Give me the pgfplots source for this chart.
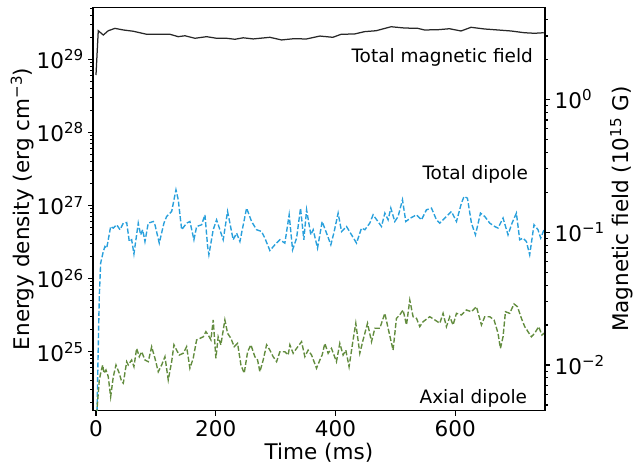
\documentclass[border=0pt]{standalone}
\usepackage{fontspec}
\setmainfont{DejaVu Sans}
\usepackage{pgfplots}
\pgfplotsset{compat=1.18}
\definecolor{cblue}{RGB}{41,160,220}
\definecolor{cgreen}{RGB}{98,140,62}
\definecolor{cblack}{RGB}{40,40,40}
\newcommand{\ex}[1]{\raisebox{0.36em}{\scalebox{0.7}{#1}}}
\newcommand{\tfont}{\fontsize{15.5}{18}\selectfont}
\newcommand{\afont}{\fontsize{13.3}{16}\selectfont}
\begin{document}
\begin{tikzpicture}
\begin{axis}[
  scale only axis, width=325.4pt, height=290.4pt,
  at={(0,0)}, anchor=south west,
  xmin=-5, xmax=750, ymode=log, ymin=1.56e24, ymax=5.14e29,
  xtick={0,200,400,600}, xticklabels={0,200,400,600},
  ytick={1e25,1e26,1e27,1e28,1e29},
  yticklabels={10\ex{25},10\ex{26},10\ex{27},10\ex{28},10\ex{29}},
  minor ytick={2e24,3e24,4e24,5e24,6e24,7e24,8e24,9e24,
    2e25,3e25,4e25,5e25,6e25,7e25,8e25,9e25,
    2e26,3e26,4e26,5e26,6e26,7e26,8e26,9e26,
    2e27,3e27,4e27,5e27,6e27,7e27,8e27,9e27,
    2e28,3e28,4e28,5e28,6e28,7e28,8e28,9e28,
    2e29,3e29,4e29,5e29},
  xtick pos=left, ytick pos=left, tick align=outside,
  major tick length=3.5pt, minor tick length=2pt,
  every tick/.style={black, line width=0.8pt},
  axis line style={line width=0.8pt},
  tick label style={font=\tfont},
  label style={font=\tfont},
  xlabel={Time (ms)},
  ylabel={Energy density (erg cm\ex{−3})},
  xlabel style={at={(axis description cs:0.5,-0.105)}, anchor=center},
  ylabel style={at={(axis description cs:-0.156,0.5)}, anchor=center},
]
\addplot[cblack, line width=0.9pt] table[x=t, y=E] {
t E
0 6.1e28
3.8 2.46e29
12.2 2.15e29
20.5 2.46e29
31.7 2.65e29
45.6 2.52e29
62.3 2.42e29
84.6 2.20e29
101.3 2.20e29
123.5 2.20e29
137.4 2.04e29
148.6 2.10e29
165.3 1.94e29
184.8 2.04e29
201.5 1.94e29
218.2 1.94e29
232.1 1.88e29
245.9 1.97e29
262.6 1.90e29
290.5 2.00e29
310 1.84e29
329.4 1.91e29
351.8 1.90e29
374 2.08e29
395.7 2.00e29
409.5 2.20e29
431.9 2.22e29
448.6 2.39e29
467.9 2.46e29
493 2.79e29
515.4 2.68e29
537.6 2.65e29
548.7 2.52e29
571 2.54e29
590.5 2.62e29
609.8 2.44e29
626.5 2.74e29
648.9 2.60e29
671.1 2.52e29
693.3 2.44e29
715.7 2.31e29
732.4 2.27e29
748 2.31e29
};
\addplot[cblue, line width=1pt, dash pattern=on 3.7pt off 1.6pt] table[x=t, y=E] {
t E
1.5 1.2e24
3.8 1.18e25
5.5 5.69e25
7.8 1.63e26
12.2 2.35e26
15.0 2.75e26
17.9 2.61e26
20.5 3.40e26
24.5 5.16e26
28.9 4.91e26
34.6 5.45e26
40.1 4.66e26
45.6 5.74e26
51.3 5.85e26
55.6 3.22e26
59.6 3.40e26
63.4 2.18e26
70.6 5.74e26
74.6 3.97e26
78.0 4.66e26
81.8 3.22e26
87.3 5.74e26
95.7 6.04e26
98.5 5.45e26
105.7 3.06e26
113.5 5.74e26
118.0 7.08e26
126.4 8.28e26
133.6 1.64e27
137.4 1.20e27
143.1 4.66e26
151.4 5.74e26
156.9 6.04e26
163.6 3.40e26
168.1 5.16e26
176.5 5.45e26
182.0 7.46e26
186.5 2.75e26
188.6 2.12e26
195.8 4.66e26
201.5 6.37e26
212.5 3.40e26
219.8 8.28e26
229.2 3.40e26
234.9 4.19e26
240.4 3.22e26
251.6 9.21e26
259.9 6.04e26
268.3 4.66e26
276.6 4.41e26
282.1 3.58e26
290.5 2.42e26
298.8 2.90e26
307.2 3.40e26
315.5 3.06e26
322.7 7.46e26
328.4 2.48e26
335.1 3.58e26
341.7 9.21e26
347.2 3.40e26
351.8 8.73e26
358.9 3.97e26
362.8 4.66e26
370.1 2.61e26
377.8 6.04e26
386.2 3.97e26
392.3 2.90e26
397.3 4.19e26
404.5 7.87e26
410.2 4.41e26
418.5 5.16e26
426.9 3.97e26
435.2 3.06e26
443.6 4.91e26
449.1 4.66e26
457.4 5.74e26
462.9 7.46e26
472.9 5.74e26
476.9 5.16e26
482.5 7.87e26
488.0 6.37e26
492.5 9.21e26
499.2 6.04e26
504.7 7.08e26
512.0 1.20e27
517.5 6.04e26
525.4 6.73e26
535.4 7.46e26
543.7 6.37e26
552.1 8.73e26
560.4 9.21e26
568.8 6.37e26
574.3 5.74e26
582.6 6.73e26
593.8 8.28e26
602.2 6.04e26
610.5 1.08e27
614.9 1.33e27
620.5 1.26e27
627.2 5.74e26
633.9 3.97e26
642.3 7.87e26
649.4 7.08e26
657.8 5.74e26
666.1 5.16e26
671.6 4.91e26
680.0 6.73e26
688.3 3.97e26
695.0 5.74e26
702.3 7.87e26
707.8 3.40e26
713.3 3.58e26
719.0 3.22e26
724.5 2.12e26
731.7 5.45e26
738.4 4.66e26
742.9 3.58e26
748.4 4.66e26
};
\addplot[cgreen, line width=1pt, dash pattern=on 3.7pt off 1.6pt] table[x=t, y=E] {
t E
1.1 1.4e24
5.5 4.10e24
8.3 5.32e24
11.2 6.58e24
13.4 5.07e24
16.7 5.62e24
20.5 4.55e24
24.5 2.42e24
28.9 4.55e24
33.4 6.58e24
38.9 5.07e24
42.9 3.89e24
45.6 3.70e24
51.3 7.30e24
53.9 6.58e24
59.6 7.70e24
63.4 6.24e24
67.9 1.11e25
72.3 8.55e24
76.3 1.00e25
81.8 7.70e24
87.3 7.30e24
93.0 1.17e25
98.5 8.12e24
104.0 5.32e24
109.7 6.58e24
115.2 8.55e24
120.7 4.10e24
126.4 7.30e24
130.2 1.24e25
134.7 1.05e25
139.1 9.0e24
145.7 9.5e24
151.4 1.17e25
156.9 5.93e24
162.4 8.12e24
168.1 1.45e25
173.6 1.52e25
179.2 1.60e25
183.6 1.88e25
187.5 1.69e25
192.0 1.45e25
195.8 2.72e25
200.3 8.12e24
204.1 1.60e25
208.6 1.24e25
215.3 2.72e25
219.8 1.79e25
225.4 1.52e25
230.9 1.17e25
236.5 1.30e25
242.1 6.58e24
247.6 5.07e24
253.3 1.00e25
258.8 1.24e25
265.4 8.55e24
269.9 7.70e24
273.8 5.32e24
279.3 7.70e24
285.0 1.24e25
290.5 1.05e25
296.0 8.55e24
301.7 7.30e24
307.2 1.00e25
315.5 1.00e25
321.0 9.0e24
323.9 1.24e25
329.4 9.5e24
335.1 1.11e25
343.4 1.37e25
348.9 8.55e24
354.4 1.05e25
360.1 9.0e24
368.4 5.93e24
374.0 7.70e24
377.8 9.0e24
382.3 1.30e25
387.8 9.5e24
393.4 1.11e25
401.7 7.30e24
407.3 1.30e25
412.8 9.0e24
417.3 1.05e25
422.8 6.24e24
429.5 1.45e25
434.0 2.45e25
440.7 9.5e24
446.2 1.45e25
453.6 2.45e25
460.3 1.37e25
465.8 2.09e25
474.1 2.09e25
482.5 3.35e25
488.0 2.09e25
496.3 1.05e25
501.9 2.86e25
507.4 3.18e25
513.0 3.72e25
518.7 2.32e25
524.2 5.09e25
529.7 3.01e25
535.4 2.86e25
540.9 2.20e25
546.4 2.57e25
557.6 3.01e25
566.0 2.72e25
574.3 2.45e25
579.8 3.35e25
585.4 2.20e25
591.0 3.01e25
596.5 2.32e25
602.2 3.35e25
610.5 3.18e25
618.9 3.72e25
627.2 3.52e25
635.5 4.13e25
643.9 2.32e25
649.4 3.01e25
657.8 3.01e25
665.0 2.72e25
671.6 1.79e25
675.6 1.11e25
680.0 1.60e25
684.0 3.52e25
691.1 3.35e25
698.3 4.50e25
704.0 4.13e25
710.7 2.86e25
716.2 2.20e25
721.7 1.88e25
727.4 1.60e25
732.9 1.79e25
739.5 2.20e25
745.0 1.69e25
748.4 1.79e25
};
\node[anchor=base east, font=\afont, inner sep=0pt] at (rel axis cs:0.974,0.863) {Total magnetic field};
\node[anchor=base east, font=\afont, inner sep=0pt] at (rel axis cs:0.963,0.572) {Total dipole};
\node[anchor=base east, font=\afont, inner sep=0pt] at (rel axis cs:0.961,0.018) {Axial dipole};
\end{axis}
\begin{axis}[
  scale only axis, width=325.4pt, height=290.4pt,
  at={(0,0)}, anchor=south west,
  xmin=-5, xmax=750, ymode=log, ymin=4.53e-3, ymax=4.93,
  axis x line=none, axis y line*=right,
  ytick={1e-2,1e-1,1},
  yticklabels={10\ex{−2},10\ex{−1},10\ex{0}},
  minor ytick={5e-3,6e-3,7e-3,8e-3,9e-3,
    2e-2,3e-2,4e-2,5e-2,6e-2,7e-2,8e-2,9e-2,
    2e-1,3e-1,4e-1,5e-1,6e-1,7e-1,8e-1,9e-1,2,3,4},
  tick align=outside,
  major tick length=3.5pt, minor tick length=2pt,
  every tick/.style={black, line width=0.8pt},
  axis line style={line width=0.8pt, -},
  tick label style={font=\tfont},
  label style={font=\tfont},
  ylabel={Magnetic field (10\ex{15} G)},
  ylabel style={at={(axis description cs:1.170,0.5)}, anchor=center},
]
\addplot[draw=none] coordinates {(0,0.1)};
\end{axis}
\pgfresetboundingbox
\path[use as bounding box] (-66.96pt,-39.8pt) rectangle (390.24pt,295.7pt);
\end{tikzpicture}
\end{document}
